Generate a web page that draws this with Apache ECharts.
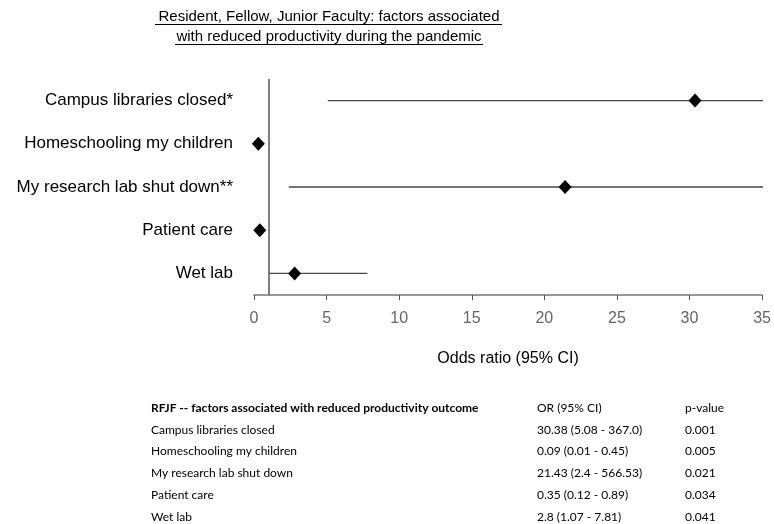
<!DOCTYPE html>
<html><head><meta charset="utf-8">
<script src="https://cdn.jsdelivr.net/npm/echarts@6/dist/echarts.min.js"></script>
<style>html,body{margin:0;padding:0;background:#fff}#c{width:774px;height:524px}</style>
</head><body><div id="c"></div>
<script>
var titleLines = ['Resident, Fellow, Junior Faculty: factors associated', 'with reduced productivity during the pandemic'];
var categories = ['Campus libraries closed*', 'Homeschooling my children', 'My research lab shut down**', 'Patient care', 'Wet lab'];
var oddsRatio = [30.38, 0.3, 21.43, 0.4, 2.8];
var ciLow = [5.08, 0.3, 2.4, 0.4, 1.07];
var ciHigh = [367.0, 0.3, 566.53, 0.4, 7.81];
var xTicks = [0, 5, 10, 15, 20, 25, 30, 35];
var refLine = 1;
var tableHeader = ['RFJF -- factors associated with reduced productivity outcome', 'OR (95% CI)', 'p-value'];
var tableNames = ['Campus libraries closed', 'Homeschooling my children', 'My research lab shut down', 'Patient care', 'Wet lab'];
var tableOR = ['30.38 (5.08 - 367.0)', '0.09 (0.01 - 0.45)', '21.43 (2.4 - 566.53)', '0.35 (0.12 - 0.89)', '2.8 (1.07 - 7.81)'];
var tableP = ['0.001', '0.005', '0.021', '0.034', '0.041'];

var chart = echarts.init(document.getElementById('c'));
var FONT = 'Liberation Sans, Arial, sans-serif';
var TFONT = 'Lato, Open Sans, sans-serif';

var graphics = [];
var titleY = [17, 37];
var underline = [[155, 502, 24.5], [175, 483, 44.5]];
titleLines.forEach(function (t, i) {
  graphics.push({type: 'text', x: 329, y: titleY[i], style: {text: t, font: '15px ' + FONT, fill: '#000', textAlign: 'center', textVerticalAlign: 'middle'}});
  graphics.push({type: 'line', shape: {x1: underline[i][0], y1: underline[i][2], x2: underline[i][1], y2: underline[i][2]}, style: {stroke: '#000', lineWidth: 1}});
});
// table
var colX = [151, 537, 685];
var rowY0 = 408, rowH = 21.8;
tableHeader.forEach(function (h, j) {
  graphics.push({type: 'text', x: colX[j], y: rowY0, style: {text: h, font: (j === 0 ? 'bold ' : '') + '12px ' + TFONT, fill: '#000', textVerticalAlign: 'middle'}});
});
tableNames.forEach(function (n, i) {
  var y = rowY0 + rowH * (i + 1);
  [n, tableOR[i], tableP[i]].forEach(function (s, j) {
    graphics.push({type: 'text', x: colX[j], y: y, style: {text: s, font: '12px ' + TFONT, fill: '#000', textVerticalAlign: 'middle'}});
  });
});

var ciData = categories.map(function (c, i) { return [ciLow[i], ciHigh[i], i]; });
var pointData = categories.map(function (c, i) { return [oddsRatio[i], i]; });

chart.setOption({
  animation: false,
  grid: {left: 254, right: 11.5, top: 79, height: 216},
  xAxis: {
    type: 'value', min: 0, max: 35, interval: 5,
    name: 'Odds ratio (95% CI)', nameLocation: 'middle', nameGap: 56,
    nameTextStyle: {color: '#000', fontSize: 16, fontFamily: FONT},
    axisLine: {show: true, lineStyle: {color: '#777', width: 1.5}},
    axisTick: {show: true, length: 5, lineStyle: {color: '#555'}},
    axisLabel: {color: '#666', fontSize: 16, fontFamily: FONT, margin: 16},
    splitLine: {show: false}
  },
  yAxis: {
    type: 'category', data: categories, inverse: true,
    axisLine: {show: false}, axisTick: {show: false}, splitLine: {show: false},
    axisLabel: {color: '#000', fontSize: 17, fontFamily: FONT, margin: 21}
  },
  series: [
    {
      type: 'custom', clip: true, data: ciData, encode: {x: [0, 1], y: 2},
      renderItem: function (params, api) {
        var a = api.coord([api.value(0), api.value(2)]);
        var b = api.coord([api.value(1), api.value(2)]);
        return {type: 'line', shape: {x1: a[0], y1: a[1], x2: b[0], y2: b[1]}, style: {stroke: '#444', lineWidth: 1.3}};
      },
      z: 2
    },
    {
      type: 'scatter', data: pointData, symbol: 'diamond', symbolSize: [13, 14],
      itemStyle: {color: '#000', opacity: 1}, z: 3,
      markLine: {silent: true, symbol: 'none', label: {show: false},
        lineStyle: {color: '#555', width: 1.5, type: 'solid', opacity: 1},
        data: [{xAxis: refLine}]}
    }
  ],
  graphic: graphics
});
</script></body></html>
